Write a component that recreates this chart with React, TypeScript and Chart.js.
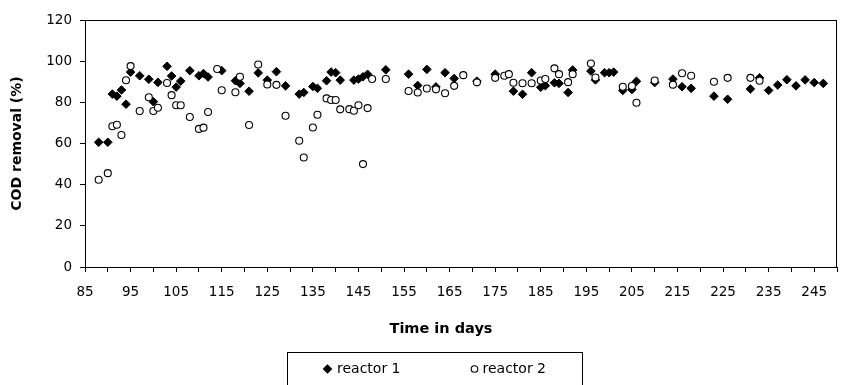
import React, { useEffect, useRef } from "react";
import { Chart, registerables } from "chart.js";

Chart.register(...registerables);

const reactor1Days = [88, 90, 91, 92, 93, 94, 95, 97, 99, 100, 101, 103, 104, 105, 106, 108, 110, 111, 112, 115, 118, 119, 121, 123, 125, 127, 129, 132, 133, 135, 136, 138, 139, 140, 141, 144, 145, 146, 147, 151, 156, 158, 160, 162, 164, 166, 171, 175, 179, 181, 183, 185, 186, 188, 189, 191, 192, 196, 197, 199, 200, 201, 203, 205, 206, 210, 214, 216, 218, 223, 226, 231, 233, 235, 237, 239, 241, 243, 245, 247];
const reactor1Values = [60.6, 60.6, 84.0, 83.0, 86.0, 79.1, 94.7, 92.9, 91.2, 80.3, 89.7, 97.5, 92.8, 87.4, 90.3, 95.4, 92.9, 94.0, 92.3, 95.4, 90.5, 89.2, 85.4, 94.3, 90.8, 94.9, 88.0, 84.0, 84.8, 87.7, 86.8, 90.5, 94.7, 94.4, 90.8, 90.8, 91.3, 92.4, 93.6, 95.8, 93.7, 88.2, 96.0, 87.5, 94.4, 91.6, 90.3, 93.7, 85.4, 83.9, 94.4, 87.3, 88.1, 89.5, 89.2, 84.8, 95.7, 95.2, 90.9, 94.4, 94.4, 94.7, 85.8, 86.2, 90.2, 89.6, 91.3, 87.6, 86.8, 83.0, 81.5, 86.5, 91.9, 85.8, 88.4, 91.0, 88.0, 90.9, 89.6, 89.2];

const reactor2Days = [88, 90, 91, 92, 93, 94, 95, 97, 99, 100, 101, 103, 104, 105, 106, 108, 110, 111, 112, 114, 115, 118, 119, 121, 123, 125, 127, 129, 132, 133, 135, 136, 138, 139, 140, 141, 143, 144, 145, 146, 147, 148, 151, 156, 158, 160, 162, 164, 166, 168, 171, 175, 177, 178, 179, 181, 183, 185, 186, 188, 189, 191, 192, 196, 197, 203, 205, 206, 210, 214, 216, 218, 223, 226, 231, 233];
const reactor2Values = [42.4, 45.6, 68.4, 69.1, 64.1, 90.7, 97.6, 75.8, 82.5, 75.8, 77.4, 89.4, 83.5, 78.6, 78.6, 72.9, 67.1, 67.7, 75.3, 96.2, 85.9, 84.9, 92.4, 69.0, 98.4, 88.7, 88.5, 73.5, 61.3, 53.2, 67.8, 74.0, 81.9, 81.1, 81.1, 76.6, 76.7, 75.9, 78.6, 50.0, 77.2, 91.3, 91.3, 85.5, 84.8, 86.7, 86.3, 84.4, 88.0, 93.2, 89.7, 91.9, 92.9, 93.7, 89.5, 89.3, 89.3, 90.6, 91.3, 96.5, 93.7, 89.8, 93.7, 98.9, 92.1, 87.6, 87.9, 79.8, 90.6, 88.6, 94.1, 92.9, 90.0, 91.9, 91.9, 90.5];

const seriesNames = ["reactor 1", "reactor 2"];
const xAxisTitle = "Time in days";
const yAxisTitle = "COD removal (%)";
const xMin = 85;
const xMax = 250;
const yMin = 0;
const yMax = 120;

const FONT = "'DejaVu Sans', Arial, sans-serif";

const decorPlugin = {
  id: "decor",
  afterDraw(chart: any) {
    const ctx = chart.ctx;
    const a = chart.chartArea;
    ctx.save();
    // plot border
    ctx.strokeStyle = "#000";
    ctx.lineWidth = 1;
    const l = Math.round(a.left) + 0.5;
    const t = Math.round(a.top) + 0.5;
    const r = Math.round(a.right) - 0.5;
    const b = Math.round(a.bottom) + 0.5;
    ctx.strokeRect(l, t, r - l, b - t);

    // x axis title
    ctx.fillStyle = "#000";
    ctx.font = `bold 14.5px ${FONT}`;
    ctx.textAlign = "center";
    ctx.textBaseline = "middle";
    ctx.fillText(xAxisTitle, 441, 329);

    // legend box
    ctx.strokeRect(287.5, 352.5, 295, 40);
    const ly = 369;
    const pts = [
      { x: 327.5, style: "rectRot", r: 4, fill: "#000", tx: 337 },
      { x: 474.5, style: "circle", r: 3.3, fill: "#fff", tx: 482.5 },
    ];
    pts.forEach((p, i) => {
      ctx.fillStyle = p.fill;
      ctx.strokeStyle = "#000";
      ctx.lineWidth = 1.1;
      ctx.beginPath();
      if (p.style === "circle") {
        ctx.arc(p.x, ly, p.r, 0, Math.PI * 2);
      } else {
        ctx.moveTo(p.x - p.r, ly);
        ctx.lineTo(p.x, ly - p.r);
        ctx.lineTo(p.x + p.r, ly);
        ctx.lineTo(p.x, ly + p.r);
        ctx.closePath();
      }
      ctx.fill();
      ctx.stroke();
      ctx.fillStyle = "#000";
      ctx.font = `14px ${FONT}`;
      ctx.textAlign = "left";
      ctx.textBaseline = "middle";
      ctx.fillText(seriesNames[i], p.tx, ly);
    });
    ctx.restore();
  },
};

export default function App() {
  const ref = useRef<HTMLCanvasElement | null>(null);
  useEffect(() => {
    if (!ref.current) return;
    const d1 = reactor1Days.map((x, i) => ({ x, y: reactor1Values[i] }));
    const d2 = reactor2Days.map((x, i) => ({ x, y: reactor2Values[i] }));
    const chart = new Chart(ref.current, {
      type: "scatter",
      data: {
        datasets: [
          {
            label: seriesNames[0],
            data: d1,
            pointStyle: "rectRot",
            pointRadius: 4.3,
            backgroundColor: "#000",
            borderColor: "#000",
            borderWidth: 1,
            order: 1,
          },
          {
            label: seriesNames[1],
            data: d2,
            pointStyle: "circle",
            pointRadius: 3.5,
            backgroundColor: "#fff",
            borderColor: "#000",
            borderWidth: 1.1,
            order: 0,
          },
        ],
      },
      options: {
        animation: false,
        responsive: false,
        devicePixelRatio: 1,
        layout: { padding: { left: 0, right: 2, top: 20, bottom: 0 } },
        plugins: {
          legend: { display: false },
          tooltip: { enabled: false },
        },
        scales: {
          x: {
            type: "linear",
            min: xMin,
            max: xMax,
            afterFit(scale: any) {
              scale.height = 118;
            },
            ticks: {
              stepSize: 5,
              autoSkip: false,
              maxRotation: 0,
              padding: 12,
              color: "#000",
              font: { family: FONT, size: 13.5 },
              callback: (v: any) => ((Number(v) - xMin) % 10 === 0 ? String(v) : ""),
            },
            grid: { drawOnChartArea: false, drawTicks: true, tickLength: 5, color: "#000" },
            border: { display: true, color: "#000", width: 1 },
          },
          y: {
            min: yMin,
            max: yMax,
            afterFit(scale: any) {
              scale.width = 85;
            },
            ticks: {
              stepSize: 20,
              padding: 8,
              color: "#000",
              font: { family: FONT, size: 13.5 },
            },
            grid: { drawOnChartArea: false, drawTicks: true, tickLength: 5, color: "#000" },
            border: { display: true, color: "#000", width: 1 },
            title: {
              display: true,
              text: yAxisTitle,
              color: "#000",
              font: { family: FONT, size: 14, weight: "bold" },
              padding: { top: 9, bottom: 0 },
            },
          },
        },
      },
      plugins: [decorPlugin],
    } as any);
    return () => chart.destroy();
  }, []);
  return (
    <div style={{ position: "fixed", left: 0, top: 0, width: 849, height: 385, background: "#fff" }}>
      <canvas ref={ref} width={849} height={385} />
    </div>
  );
}
